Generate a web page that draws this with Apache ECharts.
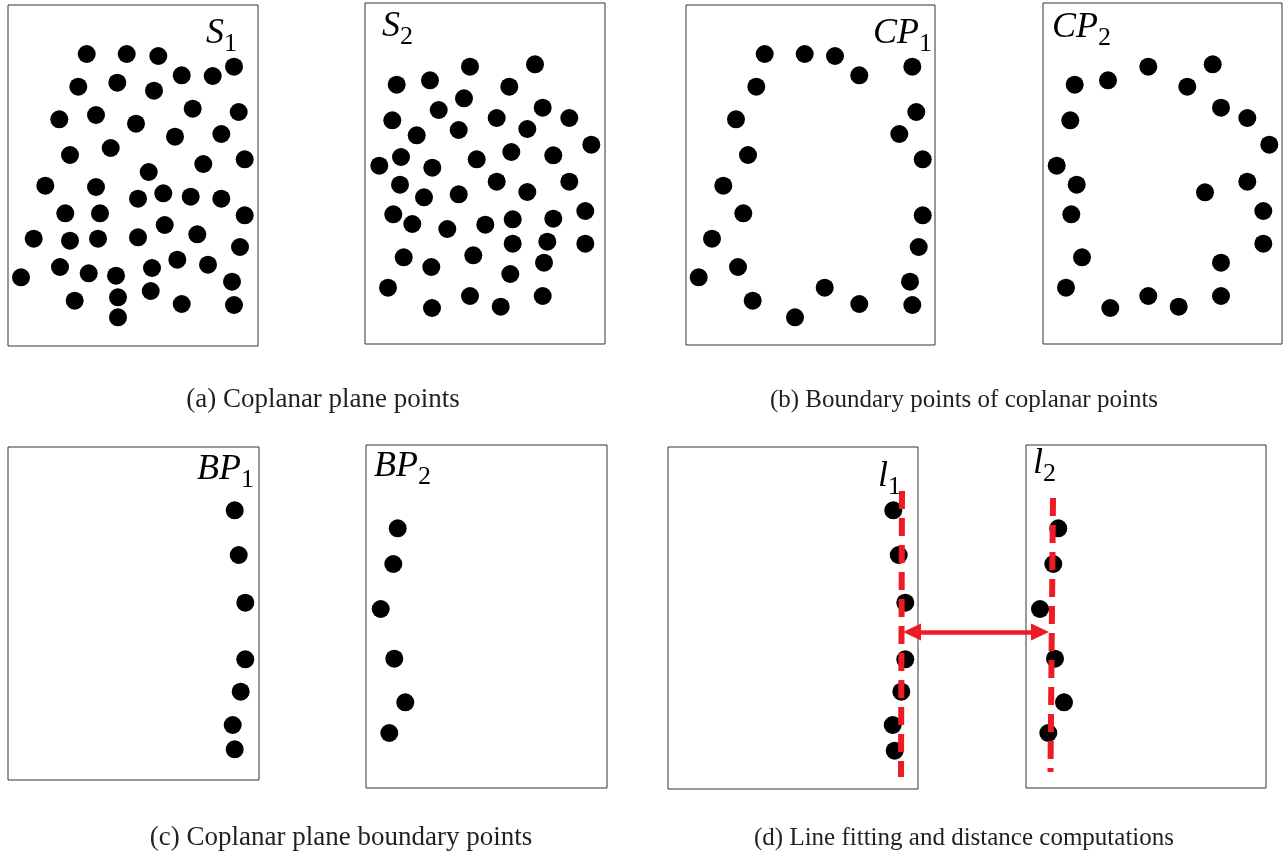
<!DOCTYPE html>
<html><head><meta charset="utf-8">
<script src="https://cdn.jsdelivr.net/npm/echarts@6/dist/echarts.min.js"></script>
<style>html,body{margin:0;padding:0;background:#fff}#c{width:1285px;height:858px}</style>
</head><body><div id="c"></div><script>
// ---- data (point positions, in figure units) ----
const s1Points = [[86.7,54],[126.7,54],[158.3,56],[181.7,75.3],[212.7,76],[234,66.7],[78.3,86.7],[117.3,82.7],[154,90.7],[192.7,108.7],[238.7,112],[59.3,119.3],[96,115],[136,123.7],[175,136.7],[221.3,134],[70,155],[110.7,148],[203.3,164],[244.7,159.3],[148.7,172],[45.3,185.7],[96,187],[138,198.7],[163.3,193.3],[190.7,196.7],[221.3,198.7],[65.3,213.3],[100,213.3],[244.7,215.3],[164.7,225],[197.3,234.3],[33.7,238.7],[70,240.7],[98,238.7],[138,237.3],[240,247],[60,267],[88.7,273.3],[116,275.7],[152,268],[177.3,259.7],[208,264.7],[21,277.3],[232,281.7],[74.7,300.7],[118,297.3],[150.7,291],[181.7,304],[234,305],[118,317.3]];
const s2Points = [[470,66.7],[535,64.3],[396.7,84.7],[430,80.3],[509.3,86.7],[464,98.3],[438.7,110],[542.7,107.7],[392.3,120.3],[496.7,118],[569.3,118],[416.7,135.3],[458.7,130],[527.3,129],[591.3,144.7],[401,157],[476.7,159.3],[511.3,152],[553.3,155.3],[379.3,165.7],[432.3,167.7],[400,184.7],[496.7,181.7],[569.3,181.7],[424,197.3],[458.7,194.3],[527.3,192],[393.3,214.3],[412.3,224],[447.3,229],[485.3,224.7],[512.7,219.3],[553.3,218.7],[585.3,211],[512.7,243.7],[547.3,241.7],[585.3,243.7],[403.7,257.3],[473.3,255.3],[544,262.7],[431.3,267],[510.3,274],[388,287.7],[432,308],[470,296],[500.7,306.7],[542.7,296]];
const cp1Points = [[764.7,54],[804.7,54],[835,56],[859.3,75.3],[912.3,66.7],[756.3,86.7],[736,119.3],[916.3,112],[899.3,134],[748,155],[922.7,159.3],[723.3,185.7],[743.3,213.3],[922.7,215.3],[712,238.7],[918.7,247],[738,267],[698.7,277.3],[910,281.7],[824.7,287.7],[752.7,300.7],[859.3,304],[912.3,305],[795,317.3]];
const cp2Points = [[1148.3,66.7],[1212.7,64.3],[1074.7,84.7],[1108,80.3],[1187.3,86.7],[1221,107.7],[1070.3,120.3],[1247.3,118],[1269.3,144.7],[1056.7,165.7],[1076.7,184.7],[1205,192.3],[1247.3,181.7],[1071.3,214.3],[1263.3,211],[1082,257.3],[1263.3,243.7],[1221,262.7],[1066,287.7],[1110.3,308],[1148.3,296],[1178.7,306.7],[1221,296]];
const bp1Points = [[234.7,510.3],[238.7,555],[245.3,602.7],[245.3,659.3],[240.7,691.7],[232.7,725],[234.7,749.3]];
const bp2Points = [[397.7,528.3],[393.3,564],[380.7,609],[394.3,658.7],[405.3,702.3],[389.3,733]];
const l1Points = [[893.3,510.3],[898.7,555],[905.3,602.7],[905.3,659.3],[901.3,691.7],[892.7,725],[894.7,750.7]];
const l2Points = [[1058.3,528.3],[1053.3,564],[1040,609],[1055,658.7],[1064,702.3],[1048.3,733]];
const l1Fit = [[902,491],[901,777]];
const l2Fit = [[1053,498],[1050.5,772]];
const distanceArrow = [[912,632],[1040,632]];
const panelLabels = [['S','1'],['S','2'],['CP','1'],['CP','2'],['BP','1'],['BP','2'],['l','1'],['l','2']];
const captions = ['(a) Coplanar plane points','(b) Boundary points of coplanar points','(c) Coplanar plane boundary points','(d) Line fitting and distance computations'];

// ---- layout ----
const frames = [ // [x0,x1,y0,y1]
  [8,258,5,346],[365,605,3,344],[686,935,5,345],[1043,1282,3,344],
  [8,259,447,780],[366,607,445,788],[668,918,447,789],[1026,1266,445,788]
];
const pointSets = [s1Points,s2Points,cp1Points,cp2Points,bp1Points,bp2Points,l1Points,l2Points];
const labelPos = [ // [x, top, align]
  [237,16,'right'],[382,9,'left'],[932,16,'right'],[1052,10,'left'],
  [254,452,'right'],[374,449,'left'],[901,459,'right'],[1033,446,'left']
];
const captionPos = [[323,400,27],[964,400,25],[341,838,27],[964,838,25]];

const grid = [], xAxis = [], yAxis = [], series = [];
const hidden = {axisLine:{show:false},axisTick:{show:false},axisLabel:{show:false},splitLine:{show:false}};
frames.forEach((f,i)=>{
  grid.push({left:f[0],top:f[2],width:f[1]-f[0],height:f[3]-f[2],show:true,borderColor:'#333',borderWidth:1,backgroundColor:'transparent'});
  xAxis.push(Object.assign({type:'value',gridIndex:i,min:f[0],max:f[1]},hidden));
  yAxis.push(Object.assign({type:'value',gridIndex:i,min:f[2],max:f[3],inverse:true},hidden));
  series.push({type:'scatter',xAxisIndex:i,yAxisIndex:i,data:pointSets[i],symbolSize:18,itemStyle:{color:'#000',opacity:1},silent:true,z:2});
});
// overlay grid for the distance arrow
grid.push({left:0,top:0,width:1285,height:858,show:false});
xAxis.push(Object.assign({type:'value',gridIndex:8,min:0,max:1285},hidden));
yAxis.push(Object.assign({type:'value',gridIndex:8,min:0,max:858,inverse:true},hidden));

const red = '#ed1c24';
series.push({type:'line',xAxisIndex:6,yAxisIndex:6,data:l1Fit,symbol:'none',silent:true,z:5,lineStyle:{color:red,width:6,type:[18,9]}});
series.push({type:'line',xAxisIndex:7,yAxisIndex:7,data:l2Fit,symbol:'none',silent:true,z:5,lineStyle:{color:red,width:6,type:[18,9]}});
series.push({type:'line',xAxisIndex:8,yAxisIndex:8,data:[],symbol:'none',silent:true,z:6,
  markLine:{silent:true,animation:false,symbol:['triangle','triangle'],symbolSize:[17,18],
    lineStyle:{color:red,width:4.5,type:'solid'},label:{show:false},emphasis:{disabled:true},
    data:[[{coord:distanceArrow[0]},{coord:distanceArrow[1]}]]}});

const graphic = [];
panelLabels.forEach((l,i)=>{
  const p = labelPos[i];
  graphic.push({type:'text',x:p[0],y:p[1],silent:true,z:10,style:{
    text:'{i|'+l[0]+'}{s|'+l[1]+'}',textAlign:p[2],textVerticalAlign:'top',fill:'#000',
    rich:{i:{fontFamily:'Liberation Serif',fontStyle:'italic',fontSize:36,lineHeight:36,verticalAlign:'top'},
          s:{fontFamily:'Liberation Serif',fontSize:26,lineHeight:56}}}});
});
captions.forEach((c,i)=>{
  graphic.push({type:'text',x:captionPos[i][0],y:captionPos[i][1],silent:true,style:{
    text:c,textAlign:'center',textVerticalAlign:'middle',fill:'#231f20',font:captionPos[i][2]+'px "Liberation Serif"'}});
});

const chart = echarts.init(document.getElementById('c'),null,{renderer:'canvas'});
chart.setOption({animation:false,backgroundColor:'#fff',grid,xAxis,yAxis,series,graphic});
</script></body></html>
